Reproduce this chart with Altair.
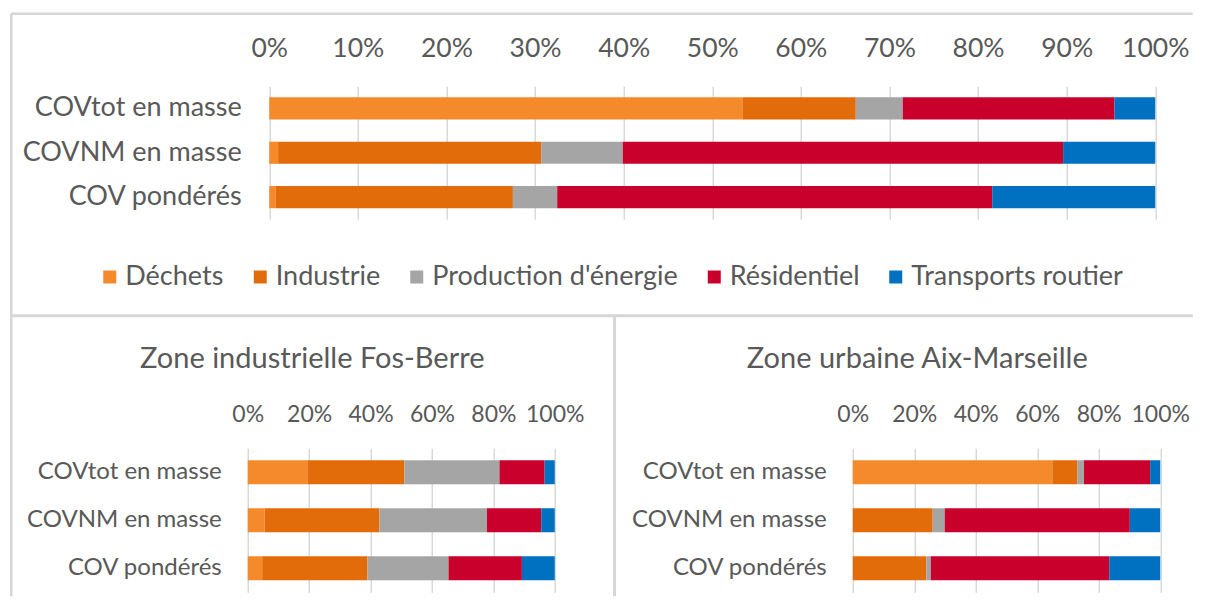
import altair as alt
import pandas as pd

# ---- data (percent shares) ----
categories = ["COVtot en masse", "COVNM en masse", "COV pondérés"]
sectors = ["Déchets", "Industrie", "Production d'énergie", "Résidentiel", "Transports routier"]
colors = ["#F58A2D", "#E36C0A", "#A5A5A5", "#C9002B", "#0070C0"]

paca_covtot = [53.4, 12.8, 5.3, 23.9, 4.6]
paca_covnm = [1.0, 29.7, 9.2, 49.7, 10.4]
paca_covpond = [0.7, 26.8, 5.0, 49.1, 18.4]

fos_covtot = [19.4, 31.6, 31.0, 14.7, 3.3]
fos_covnm = [5.5, 37.4, 35.0, 17.7, 4.4]
fos_covpond = [4.7, 34.3, 26.4, 23.9, 10.7]

aix_covtot = [64.9, 8.2, 2.1, 21.5, 3.3]
aix_covnm = [0.0, 26.0, 3.9, 60.2, 9.9]
aix_covpond = [0.0, 23.9, 1.5, 58.0, 16.6]

titles = ["Zone industrielle Fos-Berre", "Zone urbaine Aix-Marseille"]
top_ticks = [0, 0.1, 0.2, 0.3, 0.4, 0.5, 0.6, 0.7, 0.8, 0.9, 1.0]
bottom_ticks = [0, 0.2, 0.4, 0.6, 0.8, 1.0]

FONT = "Lato"
GRAY = "#595959"
LINE = "#D6D6D6"


def frame(rows):
    recs = []
    for cat, vals in zip(categories, rows):
        for i, (s, v) in enumerate(zip(sectors, vals)):
            recs.append({"cat": cat, "sector": s, "order": i, "value": v})
    return pd.DataFrame(recs)


def bar_layer(df, width, height, xscale, ticks, tick_size, tick_pad, ylab_size, ylab_pad, legend):
    return alt.Chart(df).mark_bar().encode(
        x=alt.X("value:Q", stack="normalize", scale=xscale,
                axis=alt.Axis(orient="top", format=".0%", values=ticks, grid=True,
                              gridColor="#D9D9D9", gridWidth=1.5, domain=False,
                              ticks=False, tickSize=0, labelPadding=tick_pad,
                              labelBaseline="middle", labelFontSize=tick_size,
                              labelColor=GRAY, labelFont=FONT, title=None,
                              labelFlush=False, labelOverlap=False)),
        y=alt.Y("cat:N", sort=categories,
                scale=alt.Scale(paddingInner=0.5, paddingOuter=0.25),
                axis=alt.Axis(title=None, ticks=False, domain=False, labelPadding=ylab_pad,
                              labelFontSize=ylab_size, labelColor=GRAY, labelFont=FONT,
                              labelLimit=0)),
        color=alt.Color("sector:N", scale=alt.Scale(domain=sectors, range=colors), legend=legend),
        order=alt.Order("order:Q"),
    ).properties(width=width, height=height)


one = pd.DataFrame({"k": [0]})


def rule_h(y, x1, x2, w=2.5):
    return alt.Chart(one).mark_rule(color=LINE, strokeWidth=w).encode(
        x=alt.value(x1), x2=alt.value(x2), y=alt.value(y))


def rule_v(x, y1, y2, w=2.5):
    return alt.Chart(one).mark_rule(color=LINE, strokeWidth=w).encode(
        x=alt.value(x), y=alt.value(y1), y2=alt.value(y2))


legend_top = alt.Legend(orient="none", legendX=-151.5, legendY=177, direction="horizontal",
                        columns=5, symbolType="square", symbolSize=169, symbolStrokeWidth=0,
                        labelFontSize=27, labelFont=FONT, labelColor=GRAY, labelOffset=2,
                        columnPadding=22.5, padding=0, title=None, labelLimit=0)

top_bars = bar_layer(frame([paca_covtot, paca_covnm, paca_covpond]), 912.5, 133,
                     alt.Scale(domain=[0, 1], range=[21.5, 907.5]), top_ticks, 26.5, 38,
                     27, 6.5, legend_top)

top = alt.layer(
    top_bars,
    rule_h(-72.5, -236.5, 945),
    rule_v(-236.5, -72.5, 510),
    rule_h(229.5, -236.5, 945, 3),
    rule_v(366.8, 229.5, 510, 3),
)


def title_layer(t):
    return alt.Chart(pd.DataFrame({"t": [t]})).mark_text(
        font=FONT, fontSize=29, color=GRAY, align="center", baseline="middle"
    ).encode(x=alt.value(64.5), y=alt.value(-89), text="t:N")


left = alt.layer(
    bar_layer(frame([fos_covtot, fos_covnm, fos_covpond]), 307, 144,
              alt.Scale(domain=[0, 1]), bottom_ticks, 23, 34, 24, 26.5, None),
    title_layer(titles[0]),
)
right = alt.layer(
    bar_layer(frame([aix_covtot, aix_covnm, aix_covpond]), 307.5, 144,
              alt.Scale(domain=[0, 1]), bottom_ticks, 23, 34, 24, 26.5, None),
    title_layer(titles[1]),
)

bottom = alt.hconcat(left, right, spacing=298, bounds="flush")

chart = alt.vconcat(top, bottom, spacing=229, bounds="flush").resolve_scale(
    color="independent"
).properties(
    padding={"left": 1.75, "top": 4.25, "right": 0, "bottom": 0}
).configure_view(stroke=None)

chart.save("out.html", embed_options={"renderer": "svg", "actions": False})
